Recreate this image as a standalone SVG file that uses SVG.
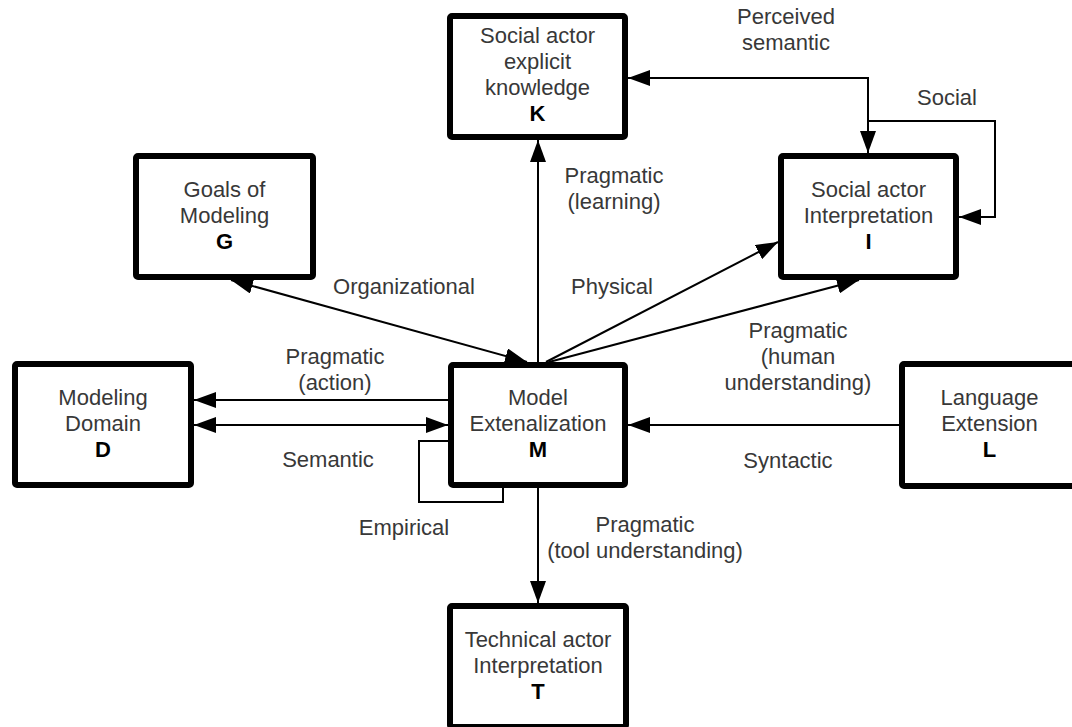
<svg xmlns="http://www.w3.org/2000/svg" width="1072" height="727" viewBox="0 0 1072 727">
<defs>
<marker id="ah" markerUnits="userSpaceOnUse" markerWidth="22" markerHeight="16" refX="22" refY="8" orient="auto-start-reverse">
<path d="M0,0 L22,8 L0,16 z" fill="#000"/>
</marker>
<style>
.box{fill:#fff;stroke:#000;stroke-width:6;stroke-linejoin:round}
.t{font-family:"Liberation Sans",Arial,sans-serif;font-size:22px;fill:#383838;text-anchor:middle}
.b{font-weight:bold;fill:#000}
.c{fill:none;stroke:#000;stroke-width:2}
.a{marker-end:url(#ah)}
.a2{marker-start:url(#ah);marker-end:url(#ah)}
</style>
</defs>
<rect width="1072" height="727" fill="#fff"/>
<g id="connectors">
<path class="c a" d="M538,362 V140"/>
<path class="c a2" d="M868,153 V78 H628"/>
<path class="c a" d="M868,121 H995 V217 H959"/>
<path class="c a2" d="M527,362 L231,280"/>
<path class="c a" d="M546,362 L778,242"/>
<path class="c a" d="M549,362 L859,280"/>
<path class="c a" d="M448,400 H194"/>
<path class="c a2" d="M194,425 H448"/>
<path class="c" d="M448,441 H419 V502 H503 V488"/>
<path class="c a" d="M899,425 H628"/>
<path class="c a" d="M538,488 V603"/>
</g>
<g id="labels">
<text class="t" x="786" y="24">Perceived</text>
<text class="t" x="786" y="50">semantic</text>
<text class="t" x="947" y="105">Social</text>
<text class="t" x="614" y="183">Pragmatic</text>
<text class="t" x="614" y="209">(learning)</text>
<text class="t" x="404" y="294">Organizational</text>
<text class="t" x="612" y="294">Physical</text>
<text class="t" x="798" y="338">Pragmatic</text>
<text class="t" x="798" y="364">(human</text>
<text class="t" x="798" y="390">understanding)</text>
<text class="t" x="335" y="364">Pragmatic</text>
<text class="t" x="335" y="390">(action)</text>
<text class="t" x="328" y="467">Semantic</text>
<text class="t" x="788" y="468">Syntactic</text>
<text class="t" x="404" y="535">Empirical</text>
<text class="t" x="645" y="532">Pragmatic</text>
<text class="t" x="645" y="558">(tool understanding)</text>
</g>
<g id="node-K">
<rect class="box" x="450" y="16" width="175" height="121" rx="2"/>
<text class="t" x="537.5" y="43">Social actor</text>
<text class="t" x="537.5" y="69">explicit</text>
<text class="t" x="537.5" y="95">knowledge</text>
<text class="t b" x="537.5" y="121">K</text>
</g>
<g id="node-I">
<rect class="box" x="781" y="156" width="175" height="121" rx="2"/>
<text class="t" x="868.5" y="197">Social actor</text>
<text class="t" x="868.5" y="223">Interpretation</text>
<text class="t b" x="868.5" y="249">I</text>
</g>
<g id="node-G">
<rect class="box" x="136" y="156" width="177" height="121" rx="2"/>
<text class="t" x="224.5" y="197">Goals of</text>
<text class="t" x="224.5" y="223">Modeling</text>
<text class="t b" x="224.5" y="249">G</text>
</g>
<g id="node-D">
<rect class="box" x="15" y="364" width="176" height="121" rx="2"/>
<text class="t" x="103" y="405">Modeling</text>
<text class="t" x="103" y="431">Domain</text>
<text class="t b" x="103" y="457">D</text>
</g>
<g id="node-M">
<rect class="box" x="451" y="365" width="174" height="120" rx="2"/>
<text class="t" x="538" y="405">Model</text>
<text class="t" x="538" y="431">Extenalization</text>
<text class="t b" x="538" y="457">M</text>
</g>
<g id="node-L">
<rect class="box" x="902" y="364" width="175" height="122" rx="2"/>
<text class="t" x="989.5" y="405">Language</text>
<text class="t" x="989.5" y="431">Extension</text>
<text class="t b" x="989.5" y="457">L</text>
</g>
<g id="node-T">
<rect class="box" x="450" y="606" width="176" height="121" rx="2"/>
<text class="t" x="538" y="647">Technical actor</text>
<text class="t" x="538" y="673">Interpretation</text>
<text class="t b" x="538" y="699">T</text>
</g>
</svg>
